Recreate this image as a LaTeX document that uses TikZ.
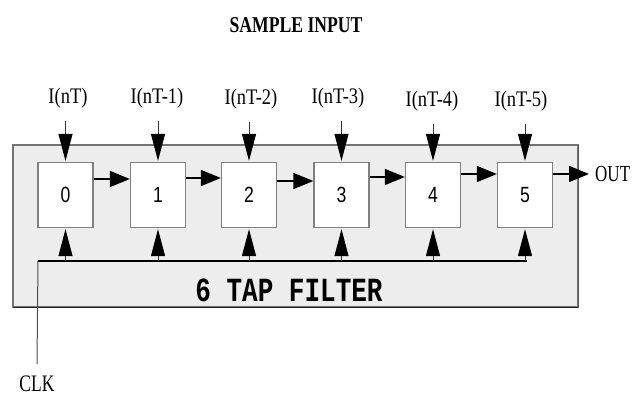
\documentclass[tikz,border=0pt]{standalone}
\usepackage{fontspec}
\setmainfont{Liberation Serif}
\setmonofont{Liberation Mono}
\setsansfont{Liberation Sans}
\usetikzlibrary{arrows.meta}
\tikzset{
  reg/.style={draw=black!50, line width=1.3pt, fill=white, minimum width=55pt, minimum height=65pt, inner sep=0pt,
    font=\sffamily\fontsize{22}{24}\selectfont},
  inlab/.style={inner xsep=0pt, inner ysep=5pt, font=\fontsize{18.5}{20}\selectfont},
  harrow/.style={line width=1.4pt, -{Triangle[length=20pt,width=16pt]}},
  varrow/.style={line width=1pt, draw=black!80, -{Triangle[length=27pt,width=14pt,color=black]}, shorten >=1pt},
}
\begin{document}
\begin{tikzpicture}[x=1pt,y=-1pt]
\useasboundingbox (0,0) rectangle (640,396);
% outer filter box
\path[fill=black!7] (13,145) rectangle (578,307);
\draw[black!55, line width=1.2pt] (578,307) -- (13,307) -- (13,145) -- (578,145) -- (578,307);
\draw[black!85, line width=1.8pt] (13,307.5) -- (579,307.5);
\draw[black!65, line width=1.6pt] (578.5,145) -- (578.5,308);
% title
\node (title) at (296,25) {\fontsize{22.6}{24}\selectfont\bfseries\scalebox{0.78}[1.0]{SAMPLE INPUT}};
% registers
\node[reg] (b0) at (65.5,195) {\scalebox{0.8}[1.0]{0}};
\node[reg] (b1) at (158,195) {\scalebox{0.8}[1.0]{1}};
\node[reg] (b2) at (249,195) {\scalebox{0.8}[1.0]{2}};
\node[reg] (b3) at (341.5,195) {\scalebox{0.8}[1.0]{3}};
\node[reg] (b4) at (433,195) {\scalebox{0.8}[1.0]{4}};
\node[reg] (b5) at (525,195) {\scalebox{0.8}[1.0]{5}};
% input labels
\node[inlab] (i0) at (68,98) {\scalebox{1}[1.2]{I(nT)}};
\node[inlab] (i1) at (157,98) {\scalebox{1}[1.2]{I(nT-1)}};
\node[inlab] (i2) at (251,99) {\scalebox{1}[1.2]{I(nT-2)}};
\node[inlab] (i3) at (338,98) {\scalebox{1}[1.2]{I(nT-3)}};
\node[inlab] (i4) at (432,101) {\scalebox{1}[1.2]{I(nT-4)}};
\node[inlab] (i5) at (521,101) {\scalebox{1}[1.2]{I(nT-5)}};
\foreach \i in {0,...,5}{
  \draw[varrow] (i\i.south -| b\i.north) ++(0,8) -- (b\i.north);
}
% shift arrows
\draw[harrow] ([yshift=16pt]b0.east) -- ([yshift=16pt]b1.west);
\draw[harrow] ([yshift=17pt]b1.east) -- ([yshift=17pt]b2.west);
\draw[harrow] ([yshift=14pt]b2.east) -- ([yshift=14pt]b3.west);
\draw[harrow] ([yshift=18pt]b3.east) -- ([yshift=18pt]b4.west);
\draw[harrow] ([yshift=21pt]b4.east) -- ([yshift=21pt]b5.west);
\node[anchor=west, inner xsep=6pt, inner ysep=0pt, font=\fontsize{17}{18}\selectfont] (out) at (589,174) {\scalebox{1}[1.35]{OUT}};
\draw[harrow] ([yshift=21pt]b5.east) -- (out.west);
% clock
\coordinate (clk) at (38,261);
\coordinate (clkend) at (527,261);
\node[anchor=north, inner xsep=0pt, inner ysep=0pt, font=\fontsize{17.5}{18}\selectfont] (clklab) at (37,376) {\scalebox{1}[1.35]{CLK}};
\draw[black!70, line width=1pt] (clk) -- ([yshift=12pt]clklab.north);
\draw[line width=1.4pt] (clk) -- (clkend);
\foreach \i in {0,...,5}{
  \draw[varrow] (clk -| b\i.south) -- (b\i.south);
}
% filter label
\node (flt) at (289,290) {\ttfamily\bfseries\fontsize{26}{28}\selectfont\scalebox{1}[1.3]{6 TAP FILTER}};
\end{tikzpicture}
\end{document}
